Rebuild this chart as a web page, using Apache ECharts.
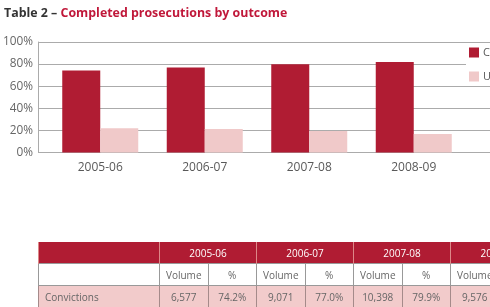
<!DOCTYPE html>
<html>
<head>
<meta charset="utf-8">
<script src="https://cdn.jsdelivr.net/npm/echarts@6/dist/echarts.min.js"></script>
<style>
  html, body { margin: 0; padding: 0; width: 490px; height: 307px; overflow: hidden; background: #fff; }
  #chart { position: absolute; left: 0; top: 0; width: 490px; height: 307px; }
  #tbl { position: absolute; left: 38px; top: 242px; border-collapse: collapse; table-layout: fixed;
         font-family: "Open Sans", sans-serif; font-size: 10px; color: #666; }
  #tbl td { padding: 0; text-align: center; white-space: nowrap; overflow: hidden; }
  #tbl tr.h td { background: #B01C33; color: #fff; height: 21px; border-left: 1px solid #d88; }
  #tbl tr.s td { background: #fff; height: 21px; border: 1px solid #999; }
  #tbl tr.c td { background: #F2CBCB; height: 22px; border: 1px solid #a58a8a; }
  #tbl td.first { text-align: left; padding-left: 6px; }
</style>
</head>
<body>
<div id="chart"></div>
<table id="tbl"></table>
<script>
// ---- data ----
const categories = ['2005-06', '2006-07', '2007-08', '2008-09'];
const seriesNames = ['Convictions', 'Unsuccessful'];
const convictionsPct = [74.2, 77.0, 79.9, 82.0];
const unsuccessfulPct = [22.0, 21.2, 19.4, 16.8];
const convictionsVolume = ['6,577', '9,071', '10,398', '9,576'];
const convictionsPctLabel = ['74.2%', '77.0%', '79.9%', '82.0%'];
const yTicks = [0, 20, 40, 60, 80, 100];

const chart = echarts.init(document.getElementById('chart'));
const font = '"Open Sans", sans-serif';
chart.setOption({
  animation: false,
  title: {
    left: -1, top: 2,
    text: '{a|Table 2 – }{b|Completed prosecutions by outcome}',
    textStyle: {
      rich: {
        a: { fontFamily: font, fontWeight: 'bold', fontSize: 12.4, color: '#333' },
        b: { fontFamily: font, fontWeight: 'bold', fontSize: 12.4, color: '#C0183A' }
      }
    }
  },
  legend: {
    orient: 'vertical', left: 466, top: 44, padding: 3,
    backgroundColor: '#fff',
    itemWidth: 10, itemHeight: 10, itemGap: 13,
    icon: 'rect',
    textStyle: { fontFamily: font, fontSize: 11, color: '#595959', padding: [0, 0, 0, -1] },
    data: seriesNames
  },
  grid: [
    { left: 38, top: 42, right: -20, bottom: 154.5 },
    { left: 48, top: 42, width: 418, bottom: 154.5 }
  ],
  xAxis: [
    { type: 'category', gridIndex: 0, data: categories, show: false },
    { type: 'category', gridIndex: 1, data: categories,
      axisLine: { show: false }, axisTick: { show: false },
      axisLabel: { fontFamily: font, fontSize: 12, color: '#595959', margin: 9 } }
  ],
  yAxis: [
    { type: 'value', gridIndex: 0, min: yTicks[0], max: yTicks[yTicks.length - 1], interval: 20,
      axisLine: { show: true, lineStyle: { color: '#ababab' } }, axisTick: { show: false },
      splitLine: { lineStyle: { color: '#ababab', width: 1 } },
      axisLabel: { fontFamily: font, fontSize: 11.8, color: '#666', margin: 5, formatter: '{value}%' } },
    { type: 'value', gridIndex: 1, min: 0, max: 100, interval: 20, show: false }
  ],
  series: [
    { name: seriesNames[0], type: 'bar', xAxisIndex: 1, yAxisIndex: 1, data: convictionsPct,
      barWidth: 38, barGap: '0%', itemStyle: { color: '#B01C33' } },
    { name: seriesNames[1], type: 'bar', xAxisIndex: 1, yAxisIndex: 1, data: unsuccessfulPct,
      barWidth: 38, barGap: '0%', itemStyle: { color: '#F0C9C9' } }
  ]
});

// ---- table ----
const tbl = document.getElementById('tbl');
const colW = [121].concat(new Array(8).fill(48.5));
let cg = '<colgroup>' + colW.map(w => '<col style="width:' + w + 'px">').join('') + '</colgroup>';
let h = '<tr class="h"><td class="first"></td>' + categories.map(c => '<td colspan="2">' + c + '</td>').join('') + '</tr>';
let s = '<tr class="s"><td></td>' + categories.map(() => '<td>Volume</td><td>%</td>').join('') + '</tr>';
let c = '<tr class="c"><td class="first">' + seriesNames[0] + '</td>' +
  categories.map((_, i) => '<td>' + convictionsVolume[i] + '</td><td>' + convictionsPctLabel[i] + '</td>').join('') + '</tr>';
tbl.innerHTML = cg + h + s + c;
tbl.style.width = colW.reduce((a, b) => a + b, 0) + 'px';
</script>
</body>
</html>
